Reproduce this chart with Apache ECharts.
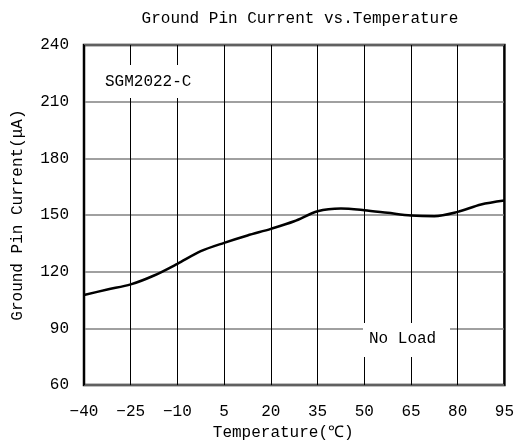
<!DOCTYPE html>
<html>
<head>
<meta charset="utf-8">
<script src="https://cdn.jsdelivr.net/npm/echarts@6/dist/echarts.min.js"></script>
<style>html,body{margin:0;padding:0;background:#fff}#c{width:517px;height:446px}</style>
</head>
<body>
<div id="c"></div>
<script>
var temps = [-40, -32.5, -25, -17.5, -10, -2.5, 5, 12.5, 20, 27.5, 35, 42.5, 50, 57.5, 65, 72.5, 80, 87.5, 95];
var current = [107.7, 110.6, 113.3, 118, 124.2, 130.9, 135.3, 139.2, 142.7, 146.7, 152, 153.5, 152.6, 151.2, 149.8, 149.4, 151.7, 155.6, 157.7];
var xTicks = [-40, -25, -10, 5, 20, 35, 50, 65, 80, 95];
var yTicks = [60, 90, 120, 150, 180, 210, 240];
var FONT = 'Liberation Mono';

var chart = echarts.init(document.getElementById('c'), null, {renderer: 'canvas'});
chart.setOption({
  animation: false,
  backgroundColor: '#fff',
  title: {
    text: 'Ground Pin Current vs.Temperature',
    left: 295, top: 6, textAlign: 'center',
    textStyle: {fontFamily: FONT, fontSize: 16, fontWeight: 'normal', color: '#000'}
  },
  grid: {left: 84, right: 10, top: 45, bottom: 60, show: true, borderColor: '#000', borderWidth: 2.5, backgroundColor: 'transparent'},
  xAxis: {
    type: 'value', min: xTicks[0], max: xTicks[xTicks.length - 1], interval: 15,
    name: 'Temperature(℃)', nameLocation: 'middle', nameGap: 39,
    nameTextStyle: {fontFamily: FONT, fontSize: 16, color: '#000', padding: [0, 22, 0, 0]},
    axisLine: {show: false}, axisTick: {show: false},
    axisLabel: {fontFamily: FONT, fontSize: 16, color: '#000', margin: 19,
      formatter: function (v) { return String(v).replace('-', '\u2212'); }},
    splitLine: {show: true, lineStyle: {color: '#000', width: 1}}
  },
  yAxis: {
    type: 'value', min: yTicks[0], max: yTicks[yTicks.length - 1], interval: 30,
    name: 'Ground Pin Current(μA)', nameLocation: 'middle', nameGap: 58,
    nameTextStyle: {fontFamily: FONT, fontSize: 16, color: '#000'},
    axisLine: {show: false}, axisTick: {show: false},
    axisLabel: {fontFamily: FONT, fontSize: 16, color: '#000', margin: 15},
    splitLine: {show: true, lineStyle: {color: '#808080', width: 1.5}}
  },
  series: [{
    type: 'line', smooth: 0.3, symbol: 'none',
    data: temps.map(function (t, i) { return [t, current[i]]; }),
    lineStyle: {color: '#000', width: 2.5}, z: 3
  }],
  graphic: [
    {type: 'rect', shape: {x: 92, y: 65, width: 120, height: 33}, style: {fill: '#fff'}, z: 10},
    {type: 'text', x: 105, y: 82, style: {text: 'SGM2022-C', font: '16px "Liberation Mono"', fill: '#000', verticalAlign: 'middle'}, z: 11},
    {type: 'rect', shape: {x: 363, y: 323, width: 87, height: 34}, style: {fill: '#fff'}, z: 10},
    {type: 'text', x: 369, y: 339, style: {text: 'No Load', font: '16px "Liberation Mono"', fill: '#000', verticalAlign: 'middle'}, z: 11}
  ]
});
</script>
</body>
</html>
